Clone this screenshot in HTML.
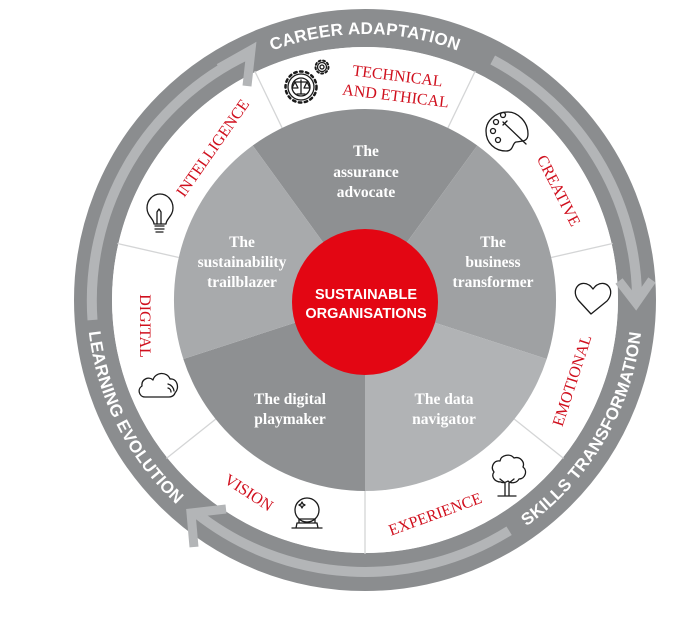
<!DOCTYPE html>
<html><head><meta charset="utf-8"><style>
html,body{margin:0;padding:0;background:#fff;}
svg{display:block;}
.r{font-family:"Liberation Serif",serif;font-size:16px;fill:#d0101e;text-anchor:middle;}
.w{font-family:"Liberation Serif",serif;font-weight:bold;font-size:15.5px;fill:#fff;text-anchor:middle;}
.o{font-family:"Liberation Sans",sans-serif;font-weight:bold;font-size:17px;fill:#fff;letter-spacing:0.3px;}
.ic{fill:none;stroke:#1a1a1a;stroke-width:1.3;stroke-linecap:round;stroke-linejoin:round;}
</style></head><body>
<svg width="690" height="619" viewBox="0 0 690 619" xmlns="http://www.w3.org/2000/svg">
<defs>
<path id="top" d="M99,300 A266,266 0 0 1 631,300"/>
<path id="bot" d="M87,300 A278,278 0 0 0 643,300"/>
</defs>
<circle cx="365" cy="300" r="272" fill="none" stroke="#8b8d8f" stroke-width="38"/>
<circle cx="365" cy="300" r="253" fill="#fff"/>
<g fill="none" stroke="#b3b5b7" stroke-width="10">
<path d="M92.5,320 A272,272 0 0 1 247,55"/>
<polyline points="219,68 251,50 247,86" stroke-width="9" stroke-linejoin="miter"/>
<path d="M492.7,59.9 A272,272 0 0 1 637,296"/>
<polyline points="619,281 636,303 652,280" stroke-width="9" stroke-linejoin="miter"/>
<path d="M509.1,530.7 A272,272 0 0 1 196,513"/>
<polyline points="194,547 191,513 226,509" stroke-width="9" stroke-linejoin="miter"/>
</g>
<text class="o"><textPath href="#top" startOffset="50%" text-anchor="middle">CAREER ADAPTATION</textPath></text>
<text class="o"><textPath href="#bot" startOffset="15%" text-anchor="middle">LEARNING EVOLUTION</textPath></text>
<text class="o"><textPath href="#bot" startOffset="83%" text-anchor="middle">SKILLS TRANSFORMATION</textPath></text>
<g stroke="#d4d5d6" stroke-width="1.3">
<line x1="215.7" y1="419.1" x2="166.4" y2="458.4"/>
<line x1="178.8" y1="257.5" x2="117.4" y2="243.5"/>
<line x1="282.1" y1="127.9" x2="254.8" y2="71.1"/>
<line x1="447.9" y1="127.9" x2="475.2" y2="71.1"/>
<line x1="551.2" y1="257.5" x2="612.6" y2="243.5"/>
<line x1="514.3" y1="419.1" x2="563.6" y2="458.4"/>
<line x1="365" y1="491" x2="365" y2="554"/>
</g>
<path d="M365,300 L252.7,145.5 A191,191 0 0 1 477.3,145.5 Z" fill="#8e9092"/>
<path d="M365,300 L477.3,145.5 A191,191 0 0 1 546.7,359 Z" fill="#9fa1a3"/>
<path d="M365,300 L546.7,359 A191,191 0 0 1 365,491 Z" fill="#b1b3b5"/>
<path d="M365,300 L365,491 A191,191 0 0 1 183.3,359 Z" fill="#8e9092"/>
<path d="M365,300 L183.3,359 A191,191 0 0 1 252.7,145.5 Z" fill="#a8aaac"/>
<circle cx="365" cy="302" r="73" fill="#e30613"/>
<text class="w" x="366" y="156">The</text>
<text class="w" x="366" y="177">assurance</text>
<text class="w" x="366" y="197">advocate</text>
<text class="w" x="242" y="247">The</text>
<text class="w" x="242" y="267">sustainability</text>
<text class="w" x="242" y="287">trailblazer</text>
<text class="w" x="493" y="247">The</text>
<text class="w" x="493" y="267">business</text>
<text class="w" x="493" y="287">transformer</text>
<text class="w" x="290" y="404">The digital</text>
<text class="w" x="290" y="424">playmaker</text>
<text class="w" x="444" y="404">The data</text>
<text class="w" x="444" y="424">navigator</text>
<text x="366" y="299" font-family="Liberation Sans,sans-serif" font-weight="bold" font-size="14.5" fill="#fff" text-anchor="middle">SUSTAINABLE</text>
<text x="366" y="318" font-family="Liberation Sans,sans-serif" font-weight="bold" font-size="14.5" fill="#fff" text-anchor="middle">ORGANISATIONS</text>
<text class="r" transform="translate(397,81) rotate(7)">TECHNICAL</text>
<text class="r" transform="translate(395,101) rotate(7)">AND ETHICAL</text>
<text class="r" transform="translate(554,193) rotate(63)">CREATIVE</text>
<text class="r" transform="translate(577,382) rotate(-72)">EMOTIONAL</text>
<text class="r" transform="translate(437,519) rotate(-20)">EXPERIENCE</text>
<text class="r" transform="translate(246,497) rotate(33)">VISION</text>
<text class="r" transform="translate(140,326) rotate(90)">DIGITAL</text>
<text class="r" transform="translate(217,151) rotate(-55)">INTELLIGENCE</text>
<g class="ic">
<circle cx="301" cy="87" r="15.5" stroke-width="2.5" stroke-dasharray="2.5 3.5"/>
<circle cx="301" cy="87" r="13"/>
<circle cx="301" cy="87" r="9"/>
<line x1="301" y1="80" x2="301" y2="94"/><line x1="295" y1="82" x2="307" y2="82"/>
<path d="M295,82 l-3,6 h6 z M307,82 l-3,6 h6 z"/><line x1="297" y1="94" x2="305" y2="94"/>
<circle cx="322" cy="67" r="6.5" stroke-width="2" stroke-dasharray="2 2.5"/>
<circle cx="322" cy="67" r="4.5"/>
<circle cx="322" cy="67" r="2"/>
<path d="M508,112 c-14,0 -22,10 -22,19 c0,12 9,20 20,20 c8,0 6,-8 10,-9 c6,-1 12,0 12,-8 c0,-12 -10,-22 -20,-22z"/>
<circle cx="496" cy="122" r="2.5"/><circle cx="493" cy="131" r="2.5"/><circle cx="498" cy="140" r="2.5"/><circle cx="503" cy="115" r="2.5"/>
<path d="M503,122 l23,22 M507,121 l-4,4"/>
<path d="M583,314 l-12,-13 c-9,-10 0,-22 10,-16 c2,1 3,3 4,4 c1,-1 2,-3 4,-4 c10,-6 19,6 10,16 z" transform="translate(8,0)"/>
<path d="M505,495 v-12 l-5,-4 M509,495 v-12 l5,-4 M498,496 h18"/>
<path d="M501,482 c-7,0 -10,-6 -7,-10 c-4,-5 0,-12 6,-11 c1,-6 10,-8 14,-3 c6,-2 11,4 9,9 c5,4 2,12 -4,12 c-2,4 -8,5 -11,2 c-3,2 -6,2 -7,1z"/>
<circle cx="307" cy="510" r="12"/>
<path d="M299,519 h16 v4 h-16 z M297,523 h20 l1,5 h-22 z M292,528 h30"/>
<path d="M302,502 l1,2 2,1 -2,1 -1,2 -1,-2 -2,-1 2,-1z"/>
<path d="M145,397 c-6,0 -8,-8 -3,-11 c-1,-7 7,-10 11,-6 c2,-8 14,-9 17,-1 c7,-1 10,9 5,14 c-1,3 -4,4 -6,4 z"/>
<path d="M168,388 a4,4 0 0 1 3,4 M168,384 a8,8 0 0 1 6,7"/>
<path d="M154,224 c0,-5 -7,-8 -7,-16 c0,-8 6,-14 13,-14 c7,0 13,6 13,14 c0,8 -7,11 -7,16 z"/>
<path d="M155,226 h9 M155,229 h9 M156,232 h7 M157,224 l0,-12 2,-3 2,3 0,12"/>
</g>
</svg>
</body></html>
